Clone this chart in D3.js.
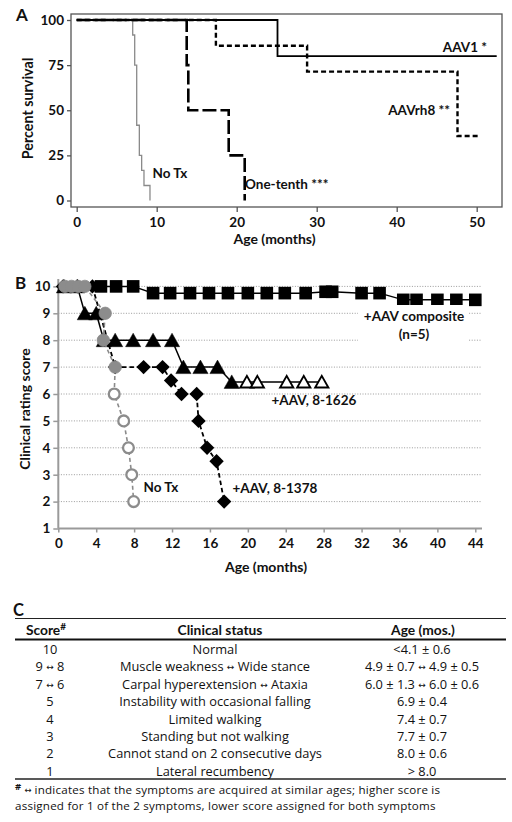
<!DOCTYPE html>
<html><head><meta charset="utf-8">
<script src="https://cdn.jsdelivr.net/npm/d3@7"></script>
<style>
body{margin:0;background:#fff;}
</style></head><body>
<svg id="c" width="512" height="822" font-family="Lato, 'Open Sans', sans-serif"></svg>
<script>
// ---------- Panel A data (Kaplan-Meier survival) ----------
const aTicksX = [0, 10, 20, 30, 40, 50];
const aTicksY = [0, 25, 50, 75, 100];
const noTxTimes = [0, 7.0, 7.25, 7.5, 7.83, 8.12, 8.41, 9.16];
const noTxSurv  = [100, 91.7, 75, 41.7, 25, 16.7, 8.3, 0];
const tenthTimes = [0, 13.75, 13.95, 19.0, 21.0];
const tenthSurv  = [100, 75, 50, 25, 0];
const aav1Times = [0, 25.1, 52.5];
const aav1Surv  = [100, 80, 80];
const rh8Times = [0, 17.4, 28.8, 47.6, 50.3];
const rh8Surv  = [100, 85.7, 71.4, 35.7, 35.7];

// ---------- Panel B data (clinical rating score) ----------
const bTicksX = [0, 4, 8, 12, 16, 20, 24, 28, 32, 36, 40, 44];
const bTicksY = [1, 2, 3, 4, 5, 6, 7, 8, 9, 10];
const bGrid = [2, 3, 4, 5, 6, 7, 8, 9, 10];
const compMonths = [4.5, 6.1, 7.9, 10.0, 11.8, 13.9, 15.9, 17.9, 20.0, 22.0, 23.9, 26.1, 28.2, 28.9, 32.0, 33.9, 36.4, 37.8, 40.0, 42.0, 44.0];
const compScore  = [10, 10, 10, 9.75, 9.75, 9.75, 9.75, 9.75, 9.75, 9.75, 9.75, 9.75, 9.8, 9.8, 9.75, 9.75, 9.5, 9.5, 9.5, 9.5, 9.5];
const triMonths = [0.6, 2.0, 2.8, 4.0, 4.8, 6.0, 7.9, 10.0, 12.0, 13.2, 15.0, 16.8, 18.3, 19.9, 21.0, 24.1, 25.9, 27.8];
const triScore  = [10, 10, 9, 9, 8, 8, 8, 8, 8, 7, 7, 7, 6.45, 6.45, 6.45, 6.45, 6.45, 6.45];
const triOpen   = [false, false, false, false, false, false, false, false, false, false, false, false, false, true, true, true, true, true];
const diaMonths = [0.5, 2.0, 3.6, 6.0, 9.0, 11.0, 11.9, 13.0, 14.6, 14.8, 15.7, 16.7, 17.5];
const diaScore  = [10, 10, 10, 7, 7, 7, 6.5, 6, 6, 5, 4, 3.5, 2];
const ntMonths = [0.7, 1.4, 2.1, 2.8, 4.95, 4.75, 6.0, 5.9, 6.9, 7.4, 7.75, 7.95];
const ntScore  = [10, 10, 10, 10, 9, 8, 7, 6, 5, 4, 3, 2];

// ---------- Panel C table ----------
const tblScores = ["10", "9 ↔ 8", "7 ↔ 6", "5", "4", "3", "2", "1"];
const tblStatus = ["Normal", "Muscle weakness ↔ Wide stance", "Carpal hyperextension ↔ Ataxia",
  "Instability with occasional falling", "Limited walking", "Standing but not walking",
  "Cannot stand on 2 consecutive days", "Lateral recumbency"];
const tblAges = ["<4.1 ± 0.6", "4.9 ± 0.7 ↔ 4.9 ± 0.5", "6.0 ± 1.3 ↔ 6.0 ± 0.6", "6.9 ± 0.4",
  "7.4 ± 0.7", "7.7 ± 0.7", "8.0 ± 0.6", "> 8.0"];
const footLines = ["indicates that the symptoms are acquired at similar ages; higher score is",
  "assigned for 1 of the 2 symptoms, lower score assigned for both symptoms"];

const svg = d3.select("#c");
const TICK = 13.5, LAB = 13.5, TITLE = 14;

// ================= Panel A =================
const xA = d3.scaleLinear().domain([0, 50]).range([76.7, 476.7]);
const yA = d3.scaleLinear().domain([0, 100]).range([200.5, 20]);
const gA = svg.append("g");
const frameL = 71, frameR = 502, frameT = 14, frameB = 207;
gA.append("rect").attr("x", frameL).attr("y", frameT).attr("width", frameR - frameL).attr("height", frameB - frameT)
  .attr("fill", "none").attr("stroke", "#555").attr("stroke-width", 1.3);

const axA = gA.append("g").attr("transform", `translate(0,${frameB})`)
  .call(d3.axisBottom(xA).tickValues(aTicksX).tickSize(5).tickSizeOuter(0).tickPadding(5));
axA.select(".domain").remove();
const ayA = gA.append("g").attr("transform", `translate(${frameL},0)`)
  .call(d3.axisLeft(yA).tickValues(aTicksY).tickSize(4).tickSizeOuter(0).tickPadding(3));
ayA.select(".domain").remove();
[axA, ayA].forEach(a => {
  a.attr("font-family", "Lato");
  a.selectAll("line").attr("stroke", "#555").attr("stroke-width", 1.3);
  a.selectAll("text").attr("font-size", TICK).attr("font-weight", "bold").attr("fill", "#111");
});

const stepLine = d3.line().x(d => xA(d[0])).y(d => yA(d[1])).curve(d3.curveStepAfter);
function km(times, surv) { return times.map((t, i) => [t, surv[i]]); }
gA.append("path").attr("d", stepLine(km(noTxTimes, noTxSurv))).attr("fill", "none")
  .attr("stroke", "#8a8a8a").attr("stroke-width", 1.3);
gA.append("path").attr("d", stepLine(km(tenthTimes, tenthSurv))).attr("fill", "none")
  .attr("stroke", "#000").attr("stroke-width", 2.6).attr("stroke-dasharray", "14,4");
gA.append("path").attr("d", stepLine(km(rh8Times, rh8Surv))).attr("fill", "none")
  .attr("stroke", "#000").attr("stroke-width", 2.4).attr("stroke-dasharray", "5,3");
gA.append("path").attr("d", stepLine(km(aav1Times, aav1Surv))).attr("fill", "none")
  .attr("stroke", "#000").attr("stroke-width", 1.8);

function lbl(g, x, y, t, anchor, size) {
  return g.append("text").attr("x", x).attr("y", y).attr("text-anchor", anchor || "start")
    .attr("font-family", "Lato")
    .attr("font-size", size || LAB).attr("font-weight", "bold").attr("fill", "#111").text(t);
}
lbl(gA, 16, 21, "A", "start", 17);
lbl(gA, 152.5, 178, "No Tx");
lbl(gA, 245, 189, "One-tenth ***");
lbl(gA, 450, 115, "AAVrh8 **", "end");
lbl(gA, 487, 52, "AAV1 *", "end");
lbl(gA, 274.5, 244, "Age (months)", "middle", TITLE);
lbl(gA, 0, 0, "Percent survival", "middle", TITLE + 0.3).attr("transform", "translate(32.5,108.5) rotate(-90)");

// ================= Panel B =================
const xB = d3.scaleLinear().domain([0, 44]).range([58.3, 475.3]);
const yB = d3.scaleLinear().domain([1, 10]).range([528.5, 286.4]);
const gB = svg.append("g");
const bAxisR = 482, bAxisT = 279;

gB.selectAll(".grid").data(bGrid).join("line").attr("class", "grid")
  .attr("x1", xB(0)).attr("x2", bAxisR).attr("y1", d => yB(d)).attr("y2", d => yB(d))
  .attr("stroke", "#9a9a9a").attr("stroke-width", 1).attr("stroke-dasharray", "1,1.6");

const axB = gB.append("g").attr("transform", `translate(0,${yB(1)})`)
  .call(d3.axisBottom(xB).tickValues(bTicksX).tickSize(4).tickSizeOuter(0).tickPadding(6));
axB.select(".domain").remove();
const ayB = gB.append("g").attr("transform", `translate(${xB(0)},0)`)
  .call(d3.axisLeft(yB).tickValues(bTicksY).tickSize(5).tickSizeOuter(0).tickPadding(3));
ayB.select(".domain").remove();
[axB, ayB].forEach(a => {
  a.attr("font-family", "Lato");
  a.selectAll("line").attr("stroke", "#999").attr("stroke-width", 1.5);
  a.selectAll("text").attr("font-size", TICK).attr("font-weight", "bold").attr("fill", "#111");
});
gB.append("line").attr("x1", xB(0)).attr("x2", bAxisR).attr("y1", yB(1)).attr("y2", yB(1))
  .attr("stroke", "#9a9a9a").attr("stroke-width", 2);
gB.append("line").attr("x1", xB(0)).attr("x2", xB(0)).attr("y1", bAxisT).attr("y2", yB(1))
  .attr("stroke", "#9a9a9a").attr("stroke-width", 2);

const ptLine = d3.line().x(d => xB(d[0])).y(d => yB(d[1]));
function pts(m, s) { return m.map((v, i) => [v, s[i], i]); }

// composite
const comp = pts(compMonths, compScore);
gB.append("path").attr("d", ptLine(comp)).attr("fill", "none").attr("stroke", "#000").attr("stroke-width", 1.5);
gB.selectAll(".sq").data(comp).join("rect").attr("class", "sq")
  .attr("x", d => xB(d[0]) - 6.3).attr("y", d => yB(d[1]) - 6.3).attr("width", 12.6).attr("height", 12.6).attr("fill", "#000");

// 8-1626
const tri = pts(triMonths, triScore);
gB.append("path").attr("d", ptLine(tri)).attr("fill", "none").attr("stroke", "#000").attr("stroke-width", 1.5);
gB.selectAll(".tri").data(tri).join("path").attr("class", "tri")
  .attr("transform", d => `translate(${xB(d[0])},${yB(d[1])})`)
  .attr("d", d => triOpen[d[2]] ? "M0,-6 L6.6,5.6 L-6.6,5.6 Z" : "M0,-7 L7.6,6.5 L-7.6,6.5 Z")
  .attr("fill", d => triOpen[d[2]] ? "#fff" : "#000")
  .attr("stroke", "#000").attr("stroke-width", d => triOpen[d[2]] ? 1.9 : 0.5).attr("stroke-linejoin", "miter");

// 8-1378
const dia = pts(diaMonths, diaScore);
gB.append("path").attr("d", ptLine(dia)).attr("fill", "none").attr("stroke", "#000")
  .attr("stroke-width", 1.8).attr("stroke-dasharray", "4.5,3");
gB.selectAll(".dia").data(dia).join("path").attr("class", "dia")
  .attr("transform", d => `translate(${xB(d[0])},${yB(d[1])})`)
  .attr("d", "M0,-7.2 L7.2,0 L0,7.2 L-7.2,0 Z").attr("fill", "#000");

// No Tx
const nt = pts(ntMonths, ntScore);
gB.append("path").attr("d", ptLine(nt)).attr("fill", "none").attr("stroke", "#8a8a8a")
  .attr("stroke-width", 1.6).attr("stroke-dasharray", "4,3");
gB.selectAll(".nt").data(nt).join("circle").attr("class", "nt")
  .attr("cx", d => xB(d[0])).attr("cy", d => yB(d[1]))
  .attr("r", d => d[1] >= 7 ? 6.2 : 5.4)
  .attr("fill", d => d[1] >= 7 ? "#8c8c8c" : "#fff")
  .attr("stroke", "#8c8c8c").attr("stroke-width", d => d[1] >= 7 ? 0.8 : 2.3);

// labels B
const compLab = gB.append("g");
compLab.append("rect").attr("x", 358).attr("y", 305).attr("width", 111).attr("height", 40).attr("fill", "#fff");
lbl(compLab, 414, 321, "+AAV composite", "middle");
lbl(compLab, 414, 338.5, "(n=5)", "middle");
lbl(gB, 271.5, 404.5, "+AAV, 8-1626");
lbl(gB, 232.5, 492.5, "+AAV, 8-1378");
lbl(gB, 143.5, 491.5, "No Tx");
lbl(gB, 15, 289, "B", "start", 17);
lbl(gB, 266, 572, "Age (months)", "middle", TITLE);
lbl(gB, 0, 0, "Clinical rating score", "middle", TITLE).attr("transform", "translate(30,409) rotate(-90)");

// ================= Panel C =================
const gC = svg.append("g");
const colX = [50, 215, 422];
const rowY0 = 649.3, rowDY = 17.4, FS = 12.8, FF = "Open Sans", FOOT = 11.6;
lbl(gC, 13, 616, "C", "start", 16.5);
gC.append("line").attr("x1", 15).attr("x2", 506).attr("y1", 618.5).attr("y2", 618.5).attr("stroke", "#222").attr("stroke-width", 1.1);
gC.append("line").attr("x1", 15).attr("x2", 506).attr("y1", 639.5).attr("y2", 639.5).attr("stroke", "#111").attr("stroke-width", 2);
gC.append("line").attr("x1", 15).attr("x2", 506).attr("y1", 779).attr("y2", 779).attr("stroke", "#222").attr("stroke-width", 1.4);

const h1 = lbl(gC, 46, 635, "Score", "middle", 13.8);
h1.append("tspan").attr("font-size", 10).attr("dy", -5).text("#");
lbl(gC, 220, 635, "Clinical status", "middle", 13.8);
lbl(gC, 423, 635, "Age (mos.)", "middle", 13.8);

function richText(g, x, y, str, anchor) {
  const t = g.append("text").attr("x", x).attr("y", y).attr("text-anchor", anchor)
    .attr("font-size", FS).attr("font-family", FF).attr("fill", "#111");
  str.split("↔").forEach((part, i) => {
    if (i > 0) {
      t.append("tspan").attr("font-size", 9).attr("font-family", "DejaVu Sans").attr("dy", -1).text("↔");
      t.append("tspan").attr("dy", 1).text(part);
    } else t.append("tspan").text(part);
  });
  return t;
}
tblScores.forEach((s, i) => {
  const y = rowY0 + i * rowDY + 4.6;
  richText(gC, colX[0], y, s, "middle");
  richText(gC, colX[1], y, tblStatus[i], "middle");
  richText(gC, colX[2], y, tblAges[i], "middle");
});
const f1 = gC.append("text").attr("x", 15).attr("y", 793.6).attr("font-size", FOOT).attr("font-family", FF)
  .attr("letter-spacing", 0.22).attr("fill", "#111");
f1.append("tspan").attr("font-size", 9.5).attr("font-weight", "bold").attr("dy", -3.5).text("#");
f1.append("tspan").attr("font-size", 8.5).attr("font-family", "DejaVu Sans").attr("dy", 2.5).text(" ↔ ");
f1.append("tspan").attr("dy", 1).text(footLines[0]);
gC.append("text").attr("x", 15).attr("y", 809.6).attr("font-size", FOOT).attr("font-family", FF)
  .attr("letter-spacing", 0.22).attr("fill", "#111").text(footLines[1]);
</script>
</body></html>
